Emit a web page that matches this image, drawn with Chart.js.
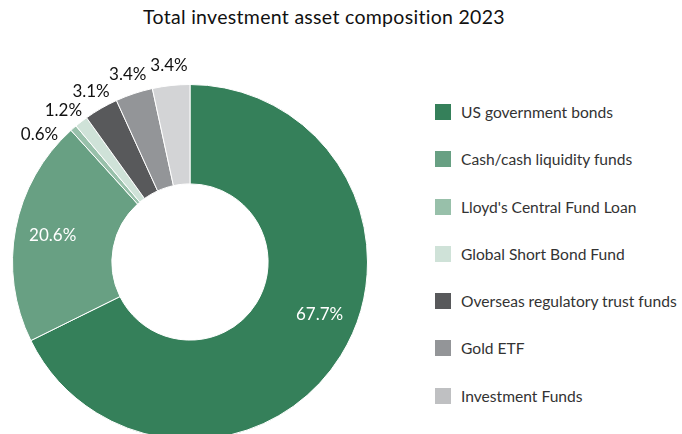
<!DOCTYPE html>
<html>
<head>
<meta charset="utf-8">
<script src="https://cdn.jsdelivr.net/npm/chart.js@4.4.1/dist/chart.umd.min.js"></script>
<style>
    html, body { margin: 0; padding: 0; background: #fff; overflow: hidden; }
    body { width: 682px; height: 434px; position: relative; font-family: Lato, "DejaVu Sans", sans-serif; }
    #title { position: absolute; left: 0; width: 682px; top: 5px; text-align: center; font-size: 19.5px; letter-spacing: 0.3px; color: #111; padding-right: 34px; box-sizing: border-box; }
    #wrap { position: absolute; left: 0; top: 44px; width: 380px; height: 436px; }
    #legend { position: absolute; left: 435px; top: 103px; margin: 0; padding: 0; list-style: none; }
    #legend li { height: 47.3px; font-size: 15.6px; white-space: nowrap; color: #333; display: flex; align-items: flex-start; }
    #legend span.box { width: 16px; height: 16px; margin-right: 10px; margin-top: 1px; flex: none; }
</style>
</head>
<body>
<div id="title">Total investment asset composition 2023</div>
<div id="wrap"><canvas id="donut"></canvas></div>
<ul id="legend"></ul>
<script>
const categories = [
    "US government bonds",
    "Cash/cash liquidity funds",
    "Lloyd's Central Fund Loan",
    "Global Short Bond Fund",
    "Overseas regulatory trust funds",
    "Gold ETF",
    "Investment Funds"
];
const shares = [67.7, 20.6, 0.6, 1.2, 3.1, 3.4, 3.4];
const colors = ["#35805a", "#68a083", "#98c0aa", "#cfe2d8", "#58595b", "#939598", "#d3d4d6"];
const legendColors = ["#35805a", "#68a083", "#98c0aa", "#cfe2d8", "#58595b", "#939598", "#bfc0c2"];

// percent labels: big slices inside in white, small ones outside in black
const labelPlugin = {
    id: "pctLabels",
    afterDatasetsDraw(chart) {
        const ctx = chart.ctx;
        const meta = chart.getDatasetMeta(0);
        const gap = 9.8 * Math.PI / 180;
        const angles = meta.data.map((a, i) =>
            a.startAngle + (a.endAngle - a.startAngle) * (shares[i] > 50 ? 0.46 : 0.5));
        // spread the small outside labels so they don't collide
        for (let i = angles.length - 2; i >= 0; i--) {
            if (shares[i] > 10 || shares[i + 1] > 10) continue;
            if (angles[i + 1] - angles[i] < gap) angles[i] = angles[i + 1] - gap;
        }
        ctx.save();
        ctx.font = "17px Lato, 'DejaVu Sans', sans-serif";
        ctx.textAlign = "center";
        ctx.textBaseline = "middle";
        meta.data.forEach((arc, i) => {
            const big = shares[i] > 10;
            const r = big ? (arc.innerRadius + arc.outerRadius) / 2 + 12 : arc.outerRadius + 20;
            const x = arc.x + Math.cos(angles[i]) * r;
            const y = arc.y + Math.sin(angles[i]) * r;
            ctx.fillStyle = big ? "#fff" : "#111";
            ctx.fillText(shares[i].toFixed(1) + "%", x, y);
        });
        ctx.restore();
    }
};

new Chart(document.getElementById("donut"), {
    type: "doughnut",
    data: {
        labels: categories,
        datasets: [{
            data: shares,
            backgroundColor: colors,
            borderColor: "#fff",
            borderWidth: 1
        }]
    },
    options: {
        responsive: true,
        maintainAspectRatio: false,
        animation: false,
        cutout: "44%",
        layout: { padding: { left: 12, right: 12, top: 40, bottom: 40 } },
        plugins: {
            legend: { display: false },
            tooltip: { enabled: false }
        }
    },
    plugins: [labelPlugin]
});

const legend = document.getElementById("legend");
categories.forEach((name, i) => {
    const li = document.createElement("li");
    li.innerHTML = '<span class="box" style="background:' + legendColors[i] + '"></span>' + name;
    legend.appendChild(li);
});
</script>
</body>
</html>
